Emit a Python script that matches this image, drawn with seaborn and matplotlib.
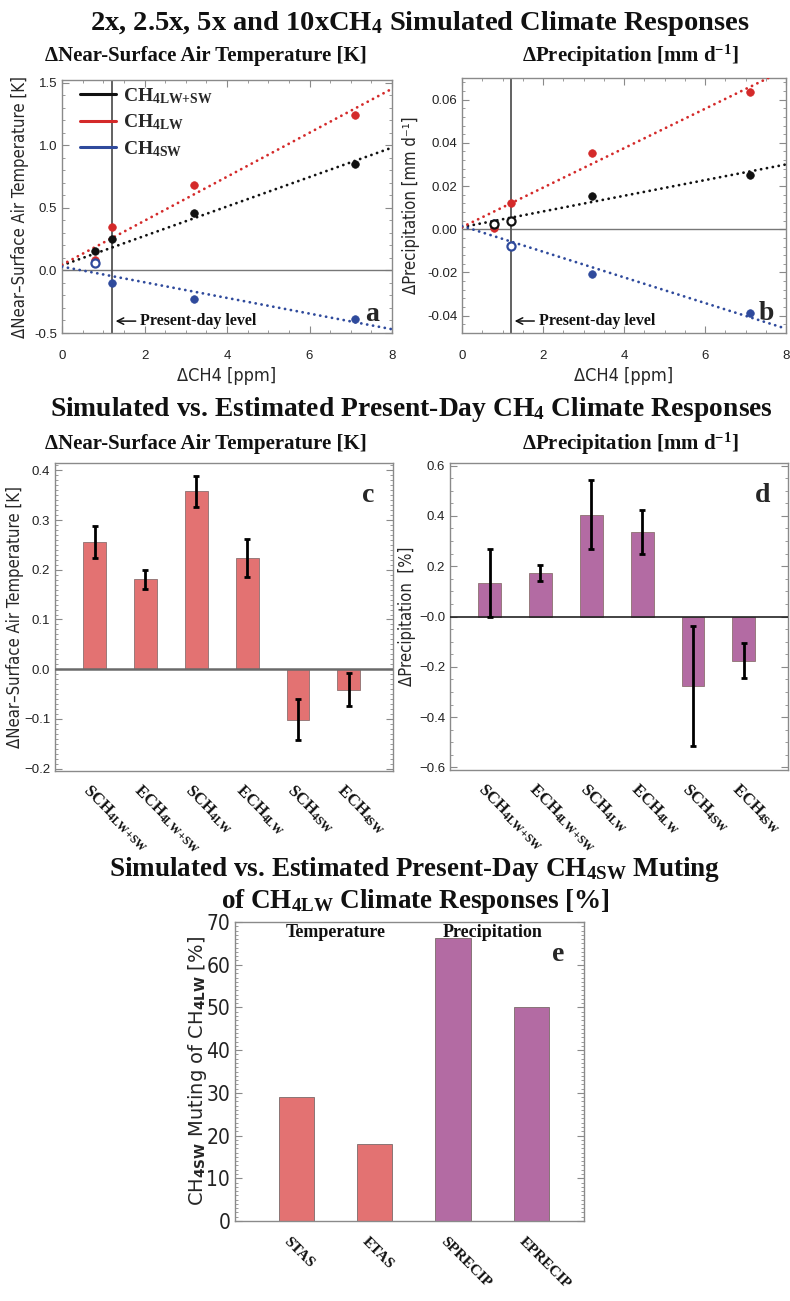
import numpy as np
import pandas as pd
import matplotlib
matplotlib.use('Agg')
import matplotlib.pyplot as plt
import matplotlib.transforms as mtransforms
from matplotlib.lines import Line2D
from matplotlib.ticker import AutoMinorLocator, FormatStrFormatter
from matplotlib import font_manager as fm
import seaborn as sns

# ---------------- data ----------------
ch4_x = [0.8, 1.2, 3.2, 7.1]          # ΔCH4 [ppm]
present_day = 1.2

tas_lwsw = [0.155, 0.254, 0.457, 0.853]
tas_lw = [0.084, 0.350, 0.683, 1.239]
tas_sw = [0.058, -0.099, -0.226, -0.386]
tas_lwsw_open = [False, False, False, False]
tas_lw_open = [False, False, False, False]
tas_sw_open = [True, False, False, False]

pr_lwsw = [0.0025, 0.0040, 0.0152, 0.0253]
pr_lw = [0.0006, 0.0121, 0.0351, 0.0633]
pr_sw = [0.0028, -0.0078, -0.0208, -0.0389]
pr_lwsw_open = [True, True, False, False]
pr_lw_open = [False, False, False, False]
pr_sw_open = [False, True, False, False]

fit_x = [0.0, 8.0]
fit_tas_lwsw = [0.04, 0.98]
fit_tas_lw = [0.045, 1.45]
fit_tas_sw = [0.03, -0.47]
fit_pr_lwsw = [0.001, 0.030]
fit_pr_lw = [0.001, 0.074]
fit_pr_sw = [0.0015, -0.046]

bar_labels = ['SCH$_{\\mathrm{4LW{+}SW}}$', 'ECH$_{\\mathrm{4LW{+}SW}}$', 'SCH$_{\\mathrm{4LW}}$',
              'ECH$_{\\mathrm{4LW}}$', 'SCH$_{\\mathrm{4SW}}$', 'ECH$_{\\mathrm{4SW}}$']
bar_keys = ['SCH4LW+SW', 'ECH4LW+SW', 'SCH4LW', 'ECH4LW', 'SCH4SW', 'ECH4SW']
tas_bar = [0.256, 0.181, 0.358, 0.224, -0.102, -0.041]
tas_err = [0.032, 0.019, 0.031, 0.038, 0.041, 0.033]
pr_bar = [0.135, 0.174, 0.405, 0.336, -0.275, -0.175]
pr_err = [0.135, 0.032, 0.137, 0.088, 0.238, 0.069]

mute_labels = ['STAS', 'ETAS', 'SPRECIP', 'EPRECIP']
mute_vals = [29.0, 18.0, 66.3, 50.0]
mute_group = ['Temperature', 'Temperature', 'Precipitation', 'Precipitation']

c_black = '#111111'
c_red = '#d42a2a'
c_blue = '#2f4a9c'
c_bar_red = '#e37272'
c_bar_purple = '#b36ba3'

# ---------------- style ----------------
sns.set_theme(style='ticks')
SERIF = 'Liberation Serif'
SANS = 'Liberation Sans'
plt.rcParams['font.family'] = [SANS, 'DejaVu Sans']
plt.rcParams['mathtext.fontset'] = 'custom'
plt.rcParams['mathtext.rm'] = 'Liberation Serif:bold'
plt.rcParams['mathtext.bf'] = 'Liberation Serif:bold'
plt.rcParams['mathtext.it'] = 'Liberation Serif:bold:italic'
plt.rcParams['mathtext.sf'] = 'DejaVu Sans:bold'

# condensed sans font for axis labels, if one is installed
cond_path = None
pref = ['dejavusanscondensed.ttf', 'liberationsansnarrow-regular.ttf',
        'opensans_condensed-regular.ttf']
paths = {f.fname.split('/')[-1].lower(): f.fname for f in fm.fontManager.ttflist}
for p in pref:
    if p in paths:
        cond_path = paths[p]
        break
if cond_path is None:
    for k, v in paths.items():
        if ('condensed' in k or 'narrow' in k) and not any(s in k for s in ('bold', 'italic', 'oblique', 'light')):
            cond_path = v
            break


def cond_font(size):
    if cond_path:
        return fm.FontProperties(fname=cond_path, size=size)
    return fm.FontProperties(family='DejaVu Sans', size=size * 0.88)


W, H = 790, 1301
fig = plt.figure(figsize=(W / 100, H / 100), dpi=100)


def px_axes(l, t, r, b):
    return fig.add_axes([l / W, 1 - b / H, (r - l) / W, (b - t) / H])


def ftext(x, y, s, **kw):
    fig.text(x / W, 1 - y / H, s, ha='center', va='center', **kw)


def style_axes(ax, xminor=None, yminor=None, xticks=True):
    for sp in ax.spines.values():
        sp.set_color('#8a8a8a')
        sp.set_linewidth(1.0)
    ax.tick_params(which='both', direction='in', top=xticks, right=True,
                   bottom=xticks, left=True, colors='#8a8a8a',
                   labelcolor='#222222', labelsize=9.5)
    ax.tick_params(which='major', length=5, width=0.8)
    ax.tick_params(which='minor', length=2.5, width=0.6)
    if xminor:
        ax.xaxis.set_minor_locator(AutoMinorLocator(xminor))
    if yminor:
        ax.yaxis.set_minor_locator(AutoMinorLocator(yminor))
    if not xticks:
        ax.tick_params(axis='x', which='both', length=0)
    ax.grid(False)


title_kw = dict(family=[SERIF, 'DejaVu Serif'], weight='bold', color='#111111')

# ---------------- titles ----------------
ftext(420, 24, '2x, 2.5x, 5x and 10xCH$_{\\mathrm{4}}$ Simulated Climate Responses', fontsize=20.5, **title_kw)
ftext(206, 56, '\u0394Near-Surface Air Temperature [K]', fontsize=15, **title_kw)
ftext(630, 56, '\u0394Precipitation [mm d$^{\\mathrm{-1}}$]', fontsize=15, **title_kw)
ftext(411, 410, 'Simulated vs. Estimated Present-Day CH$_{\\mathrm{4}}$ Climate Responses', fontsize=19.8, **title_kw)
ftext(206, 444, '\u0394Near-Surface Air Temperature [K]', fontsize=15, **title_kw)
ftext(630, 444, '\u0394Precipitation [mm d$^{\\mathrm{-1}}$]', fontsize=15, **title_kw)
ftext(415, 869, 'Simulated vs. Estimated Present-Day CH$_{\\mathrm{4SW}}$ Muting', fontsize=19.5, **title_kw)
ftext(415, 902, 'of CH$_{\\mathrm{4LW}}$ Climate Responses [%]', fontsize=19.5, **title_kw)


# ---------------- scatter panels ----------------
def scatter_panel(ax, series, fits, ylim, yticks, ylabel, letter, lab_x):
    for (vals, opens, col), fit in zip(series, fits):
        df = pd.DataFrame({'x': ch4_x, 'y': vals, 'open': opens})
        ax.plot(fit_x, fit, color=col, lw=2.0, linestyle=(0, (0.05, 2.1)),
                dash_capstyle='round', zorder=3)
        filled = df[~df['open']]
        hollow = df[df['open']]
        sns.scatterplot(data=filled, x='x', y='y', ax=ax, color=col, s=30,
                        edgecolor=col, linewidth=0.5, zorder=5)
        if len(hollow):
            ax.scatter(hollow['x'], hollow['y'], s=34, facecolors='white',
                       edgecolors=col, linewidths=1.6, zorder=6)
    ax.axhline(0, color='#777777', lw=1.0, zorder=1)
    ax.axvline(present_day, color='#555555', lw=1.3, zorder=1)
    ax.set_xlim(0, 8)
    ax.set_ylim(*ylim)
    ax.set_xticks([0, 2, 4, 6, 8])
    ax.set_yticks(yticks)
    style_axes(ax, xminor=4, yminor=5)
    ax.set_xlabel('\u0394CH4 [ppm]', fontproperties=cond_font(13), labelpad=4)
    ax.set_ylabel(ylabel, fontproperties=cond_font(12), labelpad=4)
    ax.yaxis.set_label_coords(lab_x, 0.5)
    ax.tick_params(axis='x', pad=12)
    ax.annotate('Present-day level', xy=(present_day + 0.1, 0.047),
                xytext=(1.9, 0.047), xycoords=ax.get_xaxis_transform(),
                textcoords=ax.get_xaxis_transform(), va='center', ha='left',
                fontsize=11.5, family=SERIF, weight='bold', color='#111111',
                arrowprops=dict(arrowstyle='->', color='#111111', lw=1.1,
                                shrinkA=1, shrinkB=0))
    ax.text(0.94, 0.075, letter, transform=ax.transAxes, fontsize=20,
            family=SERIF, weight='bold', ha='center', va='center')


ax_a = px_axes(62, 80, 392, 333)
scatter_panel(ax_a,
              [(tas_lwsw, tas_lwsw_open, c_black), (tas_lw, tas_lw_open, c_red),
               (tas_sw, tas_sw_open, c_blue)],
              [fit_tas_lwsw, fit_tas_lw, fit_tas_sw],
              (-0.5, 1.52), [-0.5, 0.0, 0.5, 1.0, 1.5],
              '\u0394Near\u2013Surface Air Temperature [K]', 'a', -0.10)
ax_a.yaxis.set_major_formatter(FormatStrFormatter('%.1f'))

handles = [Line2D([], [], color=c, lw=2.2) for c in (c_black, c_red, c_blue)]
leg = ax_a.legend(handles, ['CH$_{\\mathrm{4LW{+}SW}}$', 'CH$_{\\mathrm{4LW}}$', 'CH$_{\\mathrm{4SW}}$'],
                  loc='upper left', bbox_to_anchor=(0.0, 1.045), frameon=False,
                  handlelength=1.9, handletextpad=0.35, labelspacing=0.35,
                  prop=dict(family=SERIF, weight='bold', size=14))

ax_b = px_axes(462, 78, 786, 333)
scatter_panel(ax_b,
              [(pr_lwsw, pr_lwsw_open, c_black), (pr_lw, pr_lw_open, c_red),
               (pr_sw, pr_sw_open, c_blue)],
              [fit_pr_lwsw, fit_pr_lw, fit_pr_sw],
              (-0.048, 0.070), [-0.04, -0.02, 0.0, 0.02, 0.04, 0.06],
              '\u0394Precipitation [mm d\u207b\u00b9]', 'b', -0.13)
ax_b.yaxis.set_major_formatter(FormatStrFormatter('%.2f'))


# ---------------- bar panels ----------------
def label_offset(dx_px, dy_px):
    return mtransforms.ScaledTranslation(dx_px / 100, dy_px / 100, fig.dpi_scale_trans)


def bar_panel(ax, vals, errs, color, ylim, yticks, yticklabels, ylabel, letter, yminor,
              zero_color, zero_lw, lab_x):
    df = pd.DataFrame({'cat': bar_keys, 'val': vals})
    sns.barplot(data=df, x='cat', y='val', ax=ax, color=color, width=0.45,
                errorbar=None, edgecolor='#8c7070', linewidth=0.6, saturation=1)
    ax.errorbar(np.arange(len(vals)), vals, yerr=errs, fmt='none', ecolor='black',
                elinewidth=2.0, capsize=2.5, capthick=2.0, zorder=5)
    ax.axhline(0, color=zero_color, lw=zero_lw, zorder=4)
    ax.set_xlim(-0.78, len(vals) - 1 + 0.87)
    ax.set_ylim(*ylim)
    ax.set_yticks(yticks)
    ax.set_yticklabels(yticklabels)
    style_axes(ax, yminor=yminor, xticks=False)
    ax.set_xlabel('')
    ax.set_ylabel(ylabel, fontproperties=cond_font(12), labelpad=4)
    ax.yaxis.set_label_coords(lab_x, 0.5)
    ax.set_xticks(np.arange(len(vals)))
    ax.set_xticklabels(bar_labels, rotation=-45, ha='left', va='top',
                       rotation_mode='anchor', family=SERIF, weight='bold',
                       fontsize=12, color='#111111')
    for lab in ax.get_xticklabels():
        lab.set_transform(lab.get_transform() + label_offset(-3, -6))
    ax.text(0.926, 0.895, letter, transform=ax.transAxes, fontsize=20,
            family=SERIF, weight='bold', ha='center', va='center')


ax_c = px_axes(55, 463, 393, 771)
bar_panel(ax_c, tas_bar, tas_err, c_bar_red, (-0.205, 0.415),
          [-0.2, -0.1, 0.0, 0.1, 0.2, 0.3, 0.4],
          ['\u22120.2', '\u22120.1', '0.0', '0.1', '0.2', '0.3', '0.4'],
          '\u0394Near\u2013Surface Air Temperature [K]', 'c', 10, '#6a6a6a', 1.8, -0.092)

ax_d = px_axes(450, 463, 788, 770)
bar_panel(ax_d, pr_bar, pr_err, c_bar_purple, (-0.61, 0.61),
          [-0.6, -0.4, -0.2, 0.0, 0.2, 0.4, 0.6],
          ['\u22120.6', '\u22120.4', '\u22120.2', '\u22120.0', '0.2', '0.4', '0.6'],
          '\u0394Precipitation  [%]', 'd', 4, '#222222', 1.2, -0.10)

# ---------------- muting panel ----------------
ax_e = px_axes(235, 922, 584, 1221)
df_e = pd.DataFrame({'cat': mute_labels, 'val': mute_vals, 'grp': mute_group})
sns.barplot(data=df_e, x='cat', y='val', hue='grp', dodge=False, ax=ax_e,
            palette={'Temperature': c_bar_red, 'Precipitation': c_bar_purple},
            width=0.45, errorbar=None, edgecolor='#7a6a6a', linewidth=0.6,
            saturation=1, legend=False)
ax_e.set_xlim(-0.78, 3.67)
ax_e.set_ylim(0, 70)
ax_e.set_yticks(np.arange(0, 71, 10))
style_axes(ax_e, yminor=10, xticks=False)
for lab in ax_e.get_yticklabels():
    lab.set_fontproperties(cond_font(15))
ax_e.set_xlabel('')
ax_e.set_ylabel('CH$_{\\mathsf{4SW}}$ Muting of CH$_{\\mathsf{4LW}}$ [%]', family='DejaVu Sans',
                fontsize=14, labelpad=4)
ax_e.yaxis.set_label_coords(-0.075, 0.5)
ax_e.set_xticks(np.arange(4))
ax_e.set_xticklabels(mute_labels, rotation=-45, ha='left', va='top',
                     rotation_mode='anchor', family=SERIF, weight='bold',
                     fontsize=11, color='#111111')
for lab in ax_e.get_xticklabels():
    lab.set_transform(lab.get_transform() + label_offset(-6, -9))
for xg, grp in [(0.5, 'Temperature'), (2.5, 'Precipitation')]:
    ax_e.text(xg, 69.5, grp, ha='center', va='top', fontsize=13,
              family=SERIF, weight='bold', color='#111111')
ax_e.text(0.925, 0.89, 'e', transform=ax_e.transAxes, fontsize=20,
          family=SERIF, weight='bold', ha='center', va='center')

fig.savefig('out.png', dpi=100)
